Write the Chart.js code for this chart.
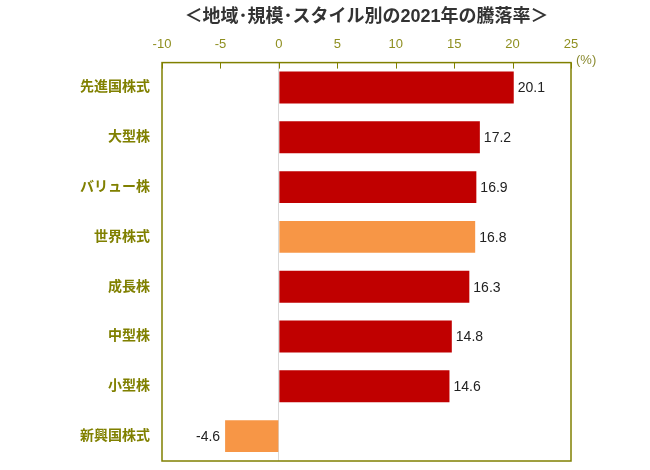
<!DOCTYPE html>
<html lang="ja">
<head>
<meta charset="UTF-8">
<title>地域･規模･スタイル別の2021年の騰落率</title>
<script src="https://cdn.jsdelivr.net/npm/chart.js"></script>
<style>
  body { margin: 0; background: #fff; }
  #wrap { width: 650px; height: 470px; }
</style>
</head>
<body>
<div id="wrap"><canvas id="chart" width="650" height="470"></canvas></div>
<script>
// data
const categories = ['先進国株式', '大型株', 'バリュー株', '世界株式', '成長株', '中型株', '小型株', '新興国株式'];
const returns2021 = [20.1, 17.2, 16.9, 16.8, 16.3, 14.8, 14.6, -4.6];
const xTicks = [-10, -5, 0, 5, 10, 15, 20, 25];
const highlighted = ['世界株式', '新興国株式'];

const FONT = "'Liberation Sans', 'Noto Sans CJK JP', sans-serif";
const OLIVE = '#808000';

// frame, inward ticks, value labels and unit
const extras = {
  id: 'extras',
  afterDatasetsDraw(chart) {
    const { ctx, chartArea: a, scales } = chart;
    ctx.save();
    // value labels
    ctx.font = '14px ' + FONT;
    ctx.fillStyle = '#222';
    ctx.textBaseline = 'middle';
    chart.getDatasetMeta(0).data.forEach((bar, i) => {
      const v = returns2021[i];
      if (v >= 0) {
        ctx.textAlign = 'left';
        ctx.fillText(v.toFixed(1), bar.x + 4, bar.y + 1);
      } else {
        ctx.textAlign = 'right';
        ctx.fillText(v.toFixed(1), bar.x - 5, bar.y + 1);
      }
    });
    // small ticks pointing into the plot
    ctx.strokeStyle = OLIVE;
    ctx.lineWidth = 1;
    xTicks.forEach(t => {
      const x = Math.round(scales.x.getPixelForValue(t)) + 0.5;
      ctx.beginPath();
      ctx.moveTo(x, a.top);
      ctx.lineTo(x, a.top + 6);
      ctx.stroke();
    });
    // frame
    ctx.lineWidth = 1.5;
    ctx.strokeRect(a.left, a.top, a.right - a.left, a.bottom - a.top);
    // unit
    ctx.font = '13px ' + FONT;
    ctx.fillStyle = '#8a8a30';
    ctx.textAlign = 'left';
    ctx.fillText('(%)', a.right + 5, a.top - 2);
    ctx.restore();
  }
};

new Chart(document.getElementById('chart'), {
  type: 'bar',
  data: {
    labels: categories,
    datasets: [{
      data: returns2021,
      backgroundColor: categories.map(c => highlighted.includes(c) ? '#F79646' : '#C00000'),
      barPercentage: 0.8,
      categoryPercentage: 0.8
    }]
  },
  options: {
    indexAxis: 'y',
    responsive: false,
    animation: false,
    devicePixelRatio: 1,
    layout: { padding: { left: 0, right: 79, top: 0, bottom: 9 } },
    plugins: {
      legend: { display: false },
      tooltip: { enabled: false },
      title: {
        display: true,
        fullSize: false,
        text: '＜地域･規模･スタイル別の2021年の騰落率＞',
        color: '#333',
        font: { family: FONT, size: 18, weight: 'bold' },
        padding: { top: 6, bottom: 0 }
      }
    },
    scales: {
      x: {
        position: 'top',
        min: -10,
        max: 25,
        afterBuildTicks: s => { s.ticks = xTicks.map(v => ({ value: v })); },
        afterFit: s => { s.height = 35; s.paddingLeft = 0; s.paddingRight = 0; },
        ticks: {
          color: '#8f8f20',
          font: { family: FONT, size: 13 },
          padding: 10,
          maxRotation: 0
        },
        grid: {
          drawTicks: false,
          color: c => c.tick && c.tick.value === 0 ? '#d9d9d9' : 'rgba(0,0,0,0)'
        },
        border: { display: false }
      },
      y: {
        afterFit: s => { s.width = 162; s.paddingTop = 0; s.paddingBottom = 0; },
        ticks: {
          color: OLIVE,
          font: { family: FONT, size: 14, weight: 'bold' },
          padding: 12
        },
        grid: { display: false, drawTicks: false },
        border: { display: false }
      }
    }
  },
  plugins: [extras]
});
</script>
</body>
</html>
